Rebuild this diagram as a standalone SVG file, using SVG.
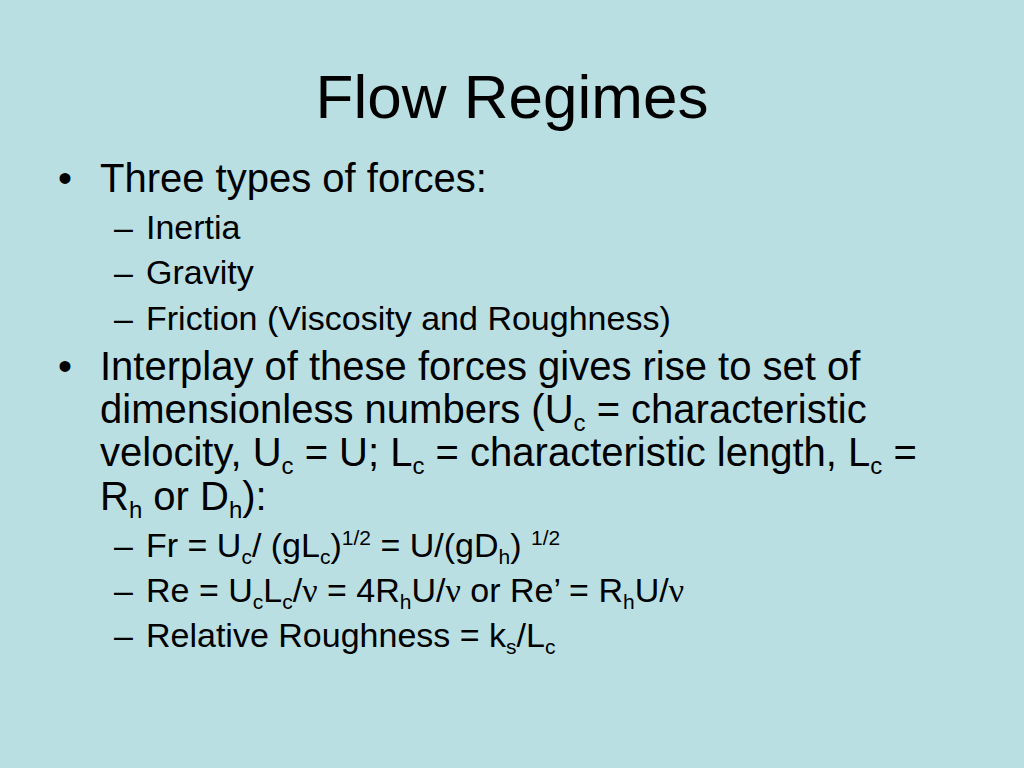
<svg xmlns="http://www.w3.org/2000/svg" width="1024" height="768" viewBox="0 0 1024 768">
<style>
text{font-family:"Liberation Sans",Arial,sans-serif;fill:#000}
.t{font-size:62px}
.b{font-size:40px}
.s{font-size:34px}
.sub{font-size:24px}
.ss{font-size:21px}
.nu{font-family:"Liberation Serif",serif}
</style>
<rect width="1024" height="768" fill="#B9DFE3"/>
<text class="t" x="512" y="118" text-anchor="middle">Flow Regimes</text>
<text class="b" x="58" y="192">•</text>
<text class="b" x="100" y="192">Three types of forces:</text>
<text class="s" x="114" y="239">–</text><text class="s" x="146" y="239">Inertia</text>
<text class="s" x="114" y="284">–</text><text class="s" x="146" y="284">Gravity</text>
<text class="s" x="114" y="330">–</text><text class="s" x="146" y="330">Friction (Viscosity and Roughness)</text>
<text class="b" x="58" y="380">•</text>
<text class="b" x="100" y="380">Interplay of these forces gives rise to set of</text>
<text class="b" x="100" y="423">dimensionless numbers (U<tspan class="sub" dy="8">c</tspan><tspan dy="-8"> = characteristic</tspan></text>
<text class="b" x="100" y="466">velocity, U<tspan class="sub" dy="8">c</tspan><tspan dy="-8"> = U; L</tspan><tspan class="sub" dy="8">c</tspan><tspan dy="-8"> = characteristic length, L</tspan><tspan class="sub" dy="8">c</tspan><tspan dy="-8"> =</tspan></text>
<text class="b" x="100" y="510">R<tspan class="sub" dy="8">h</tspan><tspan dy="-8"> or D</tspan><tspan class="sub" dy="8">h</tspan><tspan dy="-8">):</tspan></text>
<text class="s" x="114" y="557">–</text>
<text class="s" x="146" y="557">Fr = U<tspan class="ss" dy="7">c</tspan><tspan dy="-7">/ (gL</tspan><tspan class="ss" dy="7">c</tspan><tspan dy="-7">)</tspan><tspan class="ss" dy="-12">1/2</tspan><tspan dy="12"> = U/(gD</tspan><tspan class="ss" dy="7">h</tspan><tspan dy="-7">) </tspan><tspan class="ss" dy="-12">1/2</tspan></text>
<text class="s" x="114" y="602">–</text>
<text class="s" x="146" y="602">Re = U<tspan class="ss" dy="7">c</tspan><tspan dy="-7">L</tspan><tspan class="ss" dy="7">c</tspan><tspan dy="-7">/</tspan><tspan class="nu">ν</tspan> = 4R<tspan class="ss" dy="7">h</tspan><tspan dy="-7">U/</tspan><tspan class="nu">ν</tspan> or Re’ = R<tspan class="ss" dy="7">h</tspan><tspan dy="-7">U/</tspan><tspan class="nu">ν</tspan></text>
<text class="s" x="114" y="647">–</text>
<text class="s" x="146" y="647">Relative Roughness = k<tspan class="ss" dy="7">s</tspan><tspan dy="-7">/L</tspan><tspan class="ss" dy="7">c</tspan></text>
</svg>
